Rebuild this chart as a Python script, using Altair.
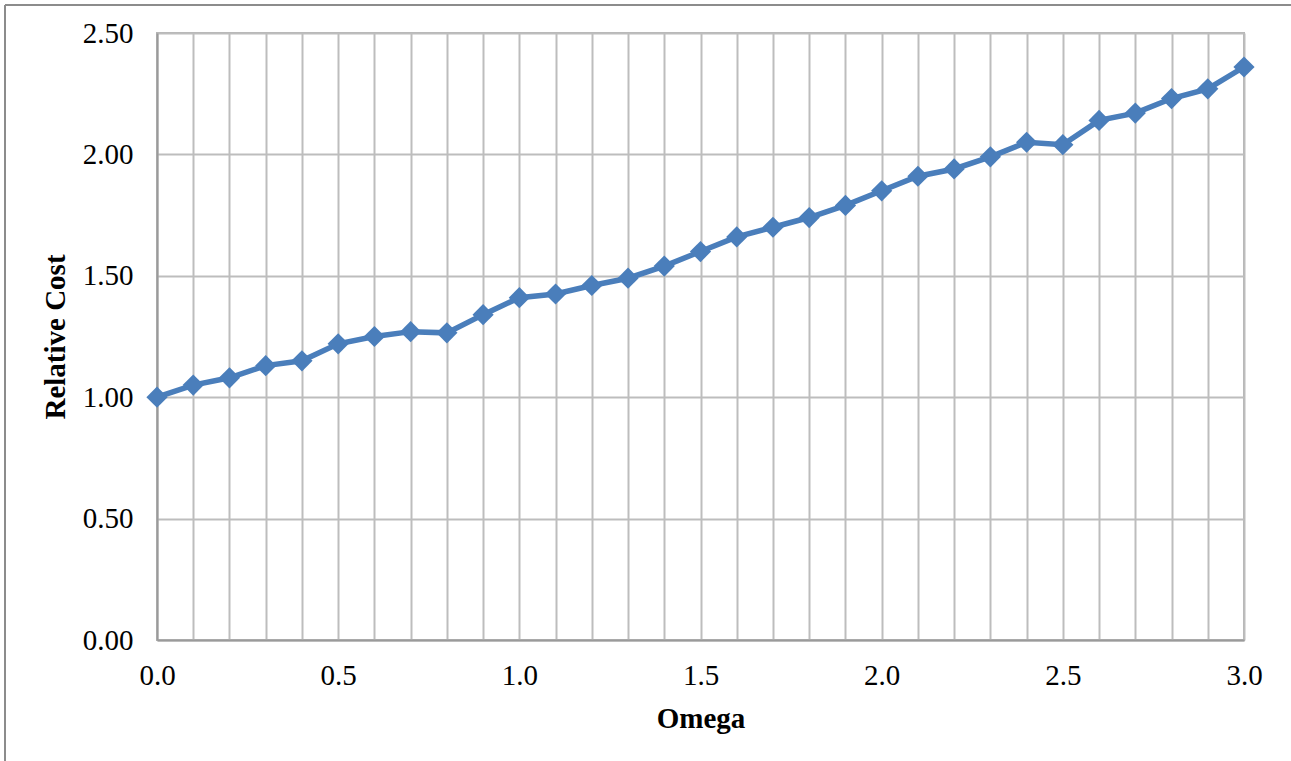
import altair as alt
import pandas as pd

omega = [0.0, 0.1, 0.2, 0.3, 0.4, 0.5, 0.6, 0.7, 0.8, 0.9,
         1.0, 1.1, 1.2, 1.3, 1.4, 1.5, 1.6, 1.7, 1.8, 1.9,
         2.0, 2.1, 2.2, 2.3, 2.4, 2.5, 2.6, 2.7, 2.8, 2.9, 3.0]
relative_cost = [1.00, 1.05, 1.08, 1.13, 1.15, 1.22, 1.25, 1.27, 1.265, 1.34,
                 1.41, 1.425, 1.46, 1.49, 1.54, 1.60, 1.66, 1.70, 1.74, 1.79,
                 1.85, 1.91, 1.94, 1.99, 2.05, 2.04, 2.14, 2.17, 2.23, 2.27, 2.36]
x_grid = [round(i * 0.1, 1) for i in range(31)]
y_ticks = [0.0, 0.5, 1.0, 1.5, 2.0, 2.5]

df = pd.DataFrame({"Omega": omega, "Relative Cost": relative_cost})

FONT = "Liberation Serif"
BLUE = "#4A7EBB"

x_enc = alt.X(
    "Omega:Q",
    scale=alt.Scale(domain=[0, 3], nice=False, zero=False),
    axis=alt.Axis(
        title="Omega",
        values=x_grid,
        labelExpr="abs(datum.value*2 - round(datum.value*2)) < 0.001 ? format(datum.value, '.1f') : ''",
        ticks=False,
        labelPadding=21,
        titlePadding=14,
        labelFlush=False,
        labelOverlap=False,
    ),
)
y_enc = alt.Y(
    "Relative Cost:Q",
    scale=alt.Scale(domain=[0, 2.5], nice=False),
    axis=alt.Axis(
        title="Relative Cost",
        values=y_ticks,
        format=".2f",
        ticks=False,
        labelPadding=24,
        titlePadding=12,
    ),
)

base = alt.Chart(df).encode(x=x_enc, y=y_enc)
line = base.mark_line(color=BLUE, strokeWidth=5.5)
points = base.mark_point(shape="diamond", filled=True, color=BLUE, size=450, opacity=1)

frame_top = alt.Chart(df).mark_rule(color="#8c8c8c", strokeWidth=2).encode(
    x=alt.value(-152), x2=alt.value(1400), y=alt.value(-28)
)
frame_left = alt.Chart(df).mark_rule(color="#8c8c8c", strokeWidth=2).encode(
    x=alt.value(-152), y=alt.value(-28), y2=alt.value(900)
)

chart = (
    alt.layer(line, points, frame_top, frame_left)
    .properties(
        width=1087,
        height=607,
        padding={"left": 157, "top": 33, "right": 47, "bottom": 121},
        autosize=alt.AutoSizeParams(type="none"),
        background="white",
    )
    .configure_view(stroke="#b5b5b5", strokeWidth=2)
    .configure_axis(
        labelFont=FONT,
        titleFont=FONT,
        labelFontSize=29,
        titleFontSize=29,
        labelColor="black",
        titleColor="black",
        titleFontWeight="bold",
        gridColor="#bdbdbd",
        gridWidth=2,
        domainColor="#9a9a9a",
        domainWidth=2,
    )
)

chart.save("out.html", embed_options={"renderer": "svg", "actions": False})
